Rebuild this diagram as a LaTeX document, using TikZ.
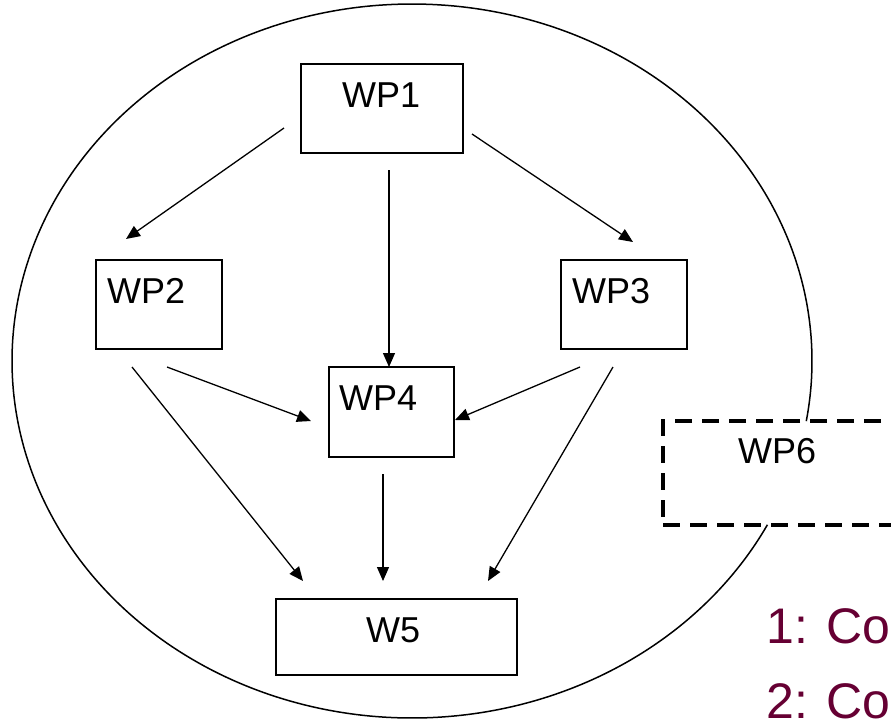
\documentclass[tikz,border=0pt]{standalone}
\usepackage{fontspec}
\setmainfont{Liberation Sans}
\usetikzlibrary{arrows.meta}
\definecolor{maroon}{HTML}{660033}
\tikzset{
  box/.style={draw, line width=1.8pt, rectangle, inner sep=0pt},
  lbl/.style={inner sep=0pt, anchor=base west, font=\fontsize{36}{40}\selectfont},
  redlbl/.style={inner sep=0pt, anchor=base west, text=maroon, font=\fontsize{50}{56}\selectfont},
  conn/.style={line width=1.3pt, -{Triangle[length=14pt,width=12pt]}},
  dashbox/.style={draw, line width=3.5pt, dash pattern=on 17pt off 10pt},
  outline/.style={line width=1.5pt}
}
\begin{document}
\begin{tikzpicture}[x=1pt,y=-1pt]
\clip (0,0) rectangle (891,721);
\useasboundingbox (0,0) rectangle (891,721);
\fill[white] (0,0) rectangle (891,721);

% big open ellipse
\draw[outline] plot[domain=-9.7:332.7, samples=300, smooth] ({412+400*cos(\x)},{361-357*sin(\x)});

% boxes
\node[box, minimum width=162pt, minimum height=89pt] (wp1) at (382,108.5) {};
\node[box, minimum width=126pt, minimum height=89pt] (wp2) at (159,304.5) {};
\node[box, minimum width=126pt, minimum height=89pt] (wp3) at (624,304.5) {};
\node[box, minimum width=125pt, minimum height=90pt] (wp4) at (391.5,412) {};
\node[box, minimum width=241pt, minimum height=76pt] (w5) at (396.5,637) {};
\node[dashbox, rectangle, inner sep=0pt, minimum width=300pt, minimum height=104pt] (wp6) at (813,473) {};

% labels
\node[lbl] (t1) at (342,107) {WP1};
\node[lbl] (t2) at (107,303) {WP2};
\node[lbl] (t3) at (572,303) {WP3};
\node[lbl] (t4) at (339,410) {WP4};
\node[lbl] (t5) at (366,642) {W5};
\node[lbl] (t6) at (738,463) {WP6};
\node[redlbl] (r1) at (766,643) {1: Co};
\node[redlbl] (r2) at (766,718) {2: Co};

% connector end points
\coordinate (a12s) at (284,128); \coordinate (a12e) at (126,239);
\coordinate (a13s) at (472,134); \coordinate (a13e) at (633,242);
\coordinate (a14s) at (389,170); \coordinate (a14e) at (389,367);
\coordinate (a24s) at (167,367); \coordinate (a24e) at (311,421);
\coordinate (a25s) at (132,367); \coordinate (a25e) at (303,581);
\coordinate (a34s) at (580,367); \coordinate (a34e) at (455,420);
\coordinate (a35s) at (613,367); \coordinate (a35e) at (488,581);
\coordinate (a45s) at (383,474); \coordinate (a45e) at (383,581);

\draw[conn] (a12s) -- (a12e);
\draw[conn] (a13s) -- (a13e);
\draw[conn] (a14s) -- (a14e);
\draw[conn] (a24s) -- (a24e);
\draw[conn] (a25s) -- (a25e);
\draw[conn] (a34s) -- (a34e);
\draw[conn] (a35s) -- (a35e);
\draw[conn] (a45s) -- (a45e);
\end{tikzpicture}
\end{document}
